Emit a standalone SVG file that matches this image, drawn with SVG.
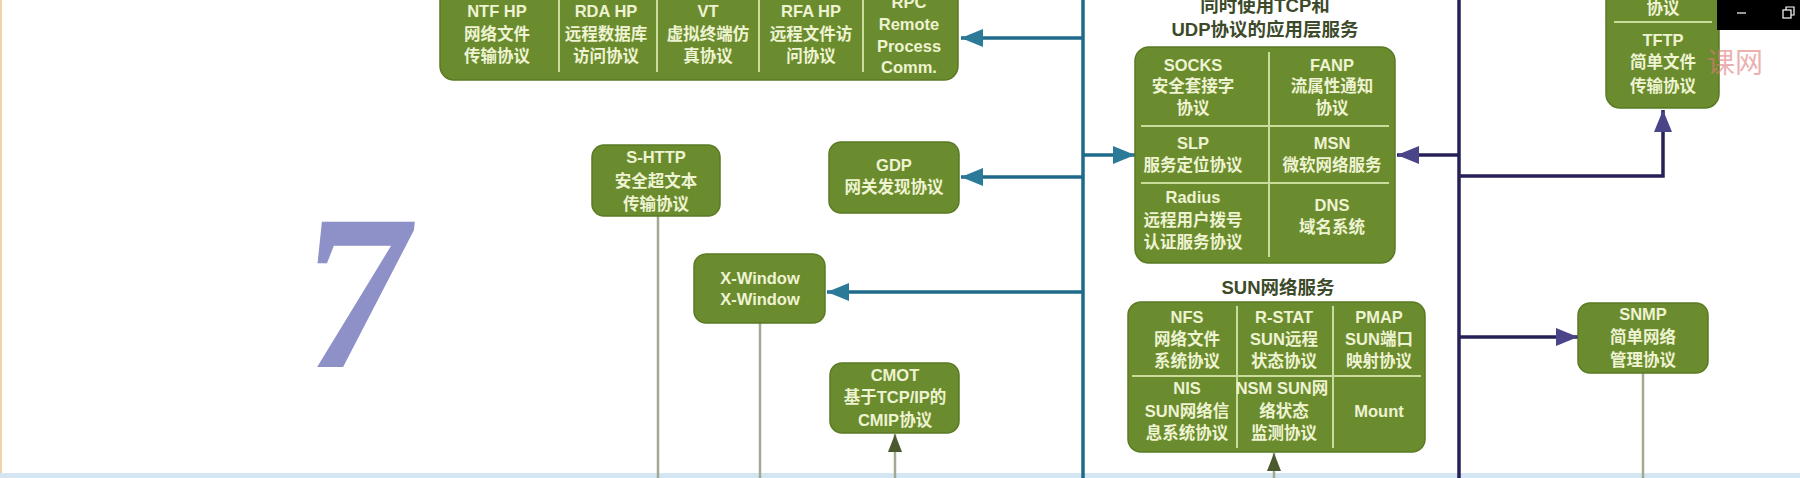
<svg xmlns="http://www.w3.org/2000/svg" width="1800" height="478" viewBox="0 0 1800 478">
<style>
.box{fill:#6b8c2e;stroke:#5a7a24;stroke-width:1.5}
.div{stroke:#c9dc9c;stroke-width:2;fill:none}
.t{font-family:"Liberation Sans","Noto Sans CJK SC",sans-serif;font-weight:bold;font-size:16.5px;fill:#eef3d2;text-anchor:middle;dominant-baseline:central}
.title{font-family:"Liberation Sans","Noto Sans CJK SC",sans-serif;font-weight:bold;font-size:18.5px;fill:#3c4a2a;text-anchor:middle;dominant-baseline:central}
.blue{stroke:#1f6a8a;stroke-width:3.5;fill:none}
.navy{stroke:#262058;stroke-width:3.5;fill:none}
.grey{stroke:#a3a892;stroke-width:2.5;fill:none}
</style>
<defs>
<marker id="ab" markerUnits="userSpaceOnUse" markerWidth="24" markerHeight="20" refX="22" refY="9" orient="auto"><path d="M0,0 L22,9 L0,18 z" fill="#2a7a98"/></marker>
<marker id="an" markerUnits="userSpaceOnUse" markerWidth="24" markerHeight="20" refX="22" refY="9" orient="auto"><path d="M0,0 L22,9 L0,18 z" fill="#4a4488"/></marker>
<marker id="ag" markerUnits="userSpaceOnUse" markerWidth="20" markerHeight="18" refX="18" refY="7" orient="auto"><path d="M0,0 L18,7 L0,14 z" fill="#4b5a2e"/></marker>
</defs>
<rect width="1800" height="478" fill="#ffffff"/>
<rect x="0" y="0" width="2" height="478" fill="#f5d0ac"/>
<rect x="0" y="473" width="1800" height="5" fill="#d3e6f2"/>
<text x="366" y="367" font-family="Liberation Serif, serif" font-weight="bold" font-size="222" fill="#8e90c8" text-anchor="middle" transform="skewX(-6) translate(22,0)">7</text>

<g id="connectors">
<line class="blue" x1="1083" y1="0" x2="1083" y2="478"/>
<line class="navy" x1="1459" y1="0" x2="1459" y2="478"/>
<line class="blue" x1="1083" y1="38" x2="961" y2="38" marker-end="url(#ab)"/>
<line class="blue" x1="1083" y1="177" x2="961" y2="177" marker-end="url(#ab)"/>
<line class="blue" x1="1083" y1="292" x2="827" y2="292" marker-end="url(#ab)"/>
<line class="blue" x1="1083" y1="155" x2="1135" y2="155" marker-end="url(#ab)"/>
<line class="navy" x1="1459" y1="155" x2="1397" y2="155" marker-end="url(#an)"/>
<polyline class="navy" points="1459,176 1663,176 1663,110" marker-end="url(#an)"/>
<line class="navy" x1="1459" y1="337" x2="1578" y2="337" marker-end="url(#an)"/>
<line class="grey" x1="658" y1="216" x2="658" y2="478"/>
<line class="grey" x1="760" y1="323" x2="760" y2="478"/>
<line class="grey" x1="1643" y1="373" x2="1643" y2="478"/>
<line class="grey" x1="895" y1="478" x2="895" y2="434" marker-end="url(#ag)"/>
<line class="grey" x1="1274" y1="478" x2="1274" y2="453" marker-end="url(#ag)"/>
</g>

<g id="app-protocols">
<rect class="box" x="440" y="-14" width="518" height="94" rx="14"/>
<path class="div" d="M559,0 V72 M657,0 V72 M759,0 V72 M863,0 V72"/>
<text class="t" x="497" y="11">NTF HP</text><text class="t" x="497" y="34">网络文件</text><text class="t" x="497" y="56">传输协议</text>
<text class="t" x="606" y="11">RDA HP</text><text class="t" x="606" y="34">远程数据库</text><text class="t" x="606" y="56">访问协议</text>
<text class="t" x="708" y="11">VT</text><text class="t" x="708" y="34">虚拟终端仿</text><text class="t" x="708" y="56">真协议</text>
<text class="t" x="811" y="11">RFA HP</text><text class="t" x="811" y="34">远程文件访</text><text class="t" x="811" y="56">问协议</text>
<text class="t" x="909" y="2">RPC</text><text class="t" x="909" y="24">Remote</text><text class="t" x="909" y="46">Process</text><text class="t" x="909" y="67">Comm.</text>
</g>

<g id="s-http">
<rect class="box" x="592" y="145" width="128" height="71" rx="12"/>
<text class="t" x="656" y="157">S-HTTP</text><text class="t" x="656" y="181">安全超文本</text><text class="t" x="656" y="204">传输协议</text>
</g>

<g id="gdp">
<rect class="box" x="829" y="142" width="130" height="71" rx="12"/>
<text class="t" x="894" y="165">GDP</text><text class="t" x="894" y="187">网关发现协议</text>
</g>

<g id="x-window">
<rect class="box" x="694" y="254" width="131" height="69" rx="12"/>
<text class="t" x="760" y="278">X-Window</text><text class="t" x="760" y="299">X-Window</text>
</g>

<g id="cmot">
<rect class="box" x="830" y="363" width="129" height="70" rx="12"/>
<text class="t" x="895" y="375">CMOT</text><text class="t" x="895" y="397">基于TCP/IP的</text><text class="t" x="895" y="420">CMIP协议</text>
</g>

<g id="tcp-udp">
<text class="title" x="1265" y="5">同时使用TCP和</text>
<text class="title" x="1265" y="29">UDP协议的应用层服务</text>
<rect class="box" x="1135" y="47" width="260" height="216" rx="14"/>
<path class="div" d="M1269,52 V257 M1141,126 H1389 M1141,183 H1389"/>
<text class="t" x="1193" y="65">SOCKS</text><text class="t" x="1193" y="86">安全套接字</text><text class="t" x="1193" y="108">协议</text>
<text class="t" x="1332" y="65">FANP</text><text class="t" x="1332" y="86">流属性通知</text><text class="t" x="1332" y="108">协议</text>
<text class="t" x="1193" y="143">SLP</text><text class="t" x="1193" y="165">服务定位协议</text>
<text class="t" x="1332" y="143">MSN</text><text class="t" x="1332" y="165">微软网络服务</text>
<text class="t" x="1193" y="197">Radius</text><text class="t" x="1193" y="220">远程用户拨号</text><text class="t" x="1193" y="242">认证服务协议</text>
<text class="t" x="1332" y="205">DNS</text><text class="t" x="1332" y="227">域名系统</text>
</g>

<g id="sun">
<text class="title" x="1278" y="287">SUN网络服务</text>
<rect class="box" x="1128" y="302" width="297" height="150" rx="13"/>
<path class="div" d="M1237,306 V448 M1333,306 V448 M1132,376 H1421"/>
<text class="t" x="1187" y="317">NFS</text><text class="t" x="1187" y="339">网络文件</text><text class="t" x="1187" y="361">系统协议</text>
<text class="t" x="1284" y="317">R-STAT</text><text class="t" x="1284" y="339">SUN远程</text><text class="t" x="1284" y="361">状态协议</text>
<text class="t" x="1379" y="317">PMAP</text><text class="t" x="1379" y="339">SUN端口</text><text class="t" x="1379" y="361">映射协议</text>
<text class="t" x="1187" y="388">NIS</text><text class="t" x="1187" y="411">SUN网络信</text><text class="t" x="1187" y="433">息系统协议</text>
<text class="t" x="1282" y="388">NSM SUN网</text><text class="t" x="1284" y="411">络状态</text><text class="t" x="1284" y="433">监测协议</text>
<text class="t" x="1379" y="411">Mount</text>
</g>

<g id="tftp">
<rect class="box" x="1606" y="-30" width="113" height="138" rx="14"/>
<line class="div" x1="1614" y1="22" x2="1712" y2="22"/>
<text class="t" x="1663" y="8">协议</text>
<text class="t" x="1663" y="40">TFTP</text><text class="t" x="1663" y="62">简单文件</text><text class="t" x="1663" y="86">传输协议</text>
</g>

<g id="snmp">
<rect class="box" x="1578" y="303" width="130" height="70" rx="12"/>
<text class="t" x="1643" y="314">SNMP</text><text class="t" x="1643" y="337">简单网络</text><text class="t" x="1643" y="360">管理协议</text>
</g>

<text x="1735" y="61" font-family="Noto Sans CJK SC, sans-serif" font-size="28" fill="#e27a7a" fill-opacity="0.6" text-anchor="middle" dominant-baseline="central">课网</text>
<rect x="1717" y="0" width="83" height="30" fill="#000000"/>
<line x1="1737" y1="13" x2="1746" y2="13" stroke="#ffffff" stroke-width="1.2"/>
<rect x="1783" y="10" width="8" height="8" fill="none" stroke="#ffffff" stroke-width="1.2"/>
<path d="M1786,10 V7 H1794 V15 H1791" fill="none" stroke="#ffffff" stroke-width="1.2"/>
</svg>
